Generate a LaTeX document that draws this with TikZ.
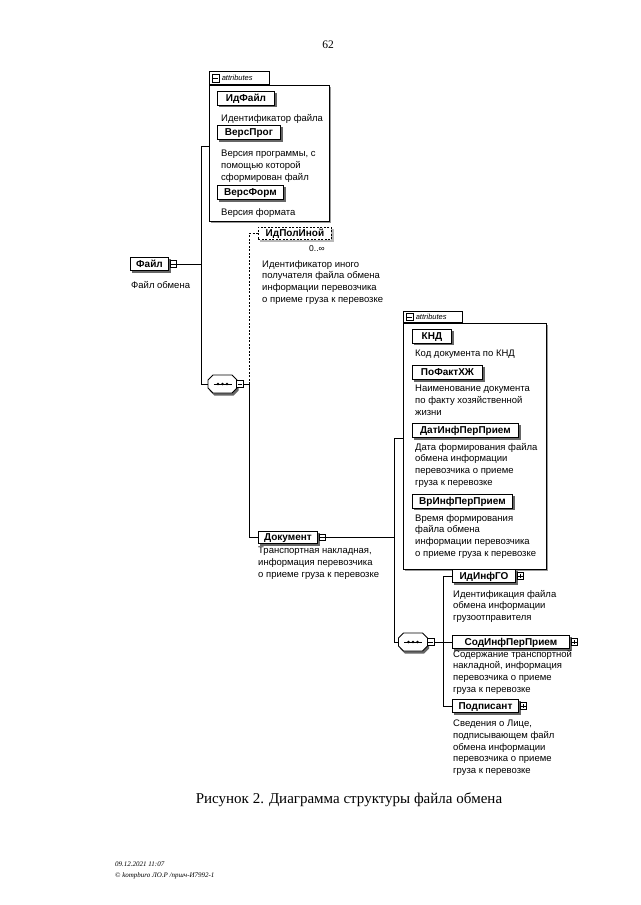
\documentclass[tikz,border=0pt]{standalone}
\usepackage{fontspec}
\setmainfont{Liberation Sans}
\newfontfamily\seriffam{Liberation Serif}
\usetikzlibrary{calc}
\pgfdeclarelayer{paper}
\pgfdeclarelayer{bgshadow}
\pgfdeclarelayer{bgbox}
\pgfdeclarelayer{shadow}
\pgfsetlayers{paper,bgshadow,bgbox,shadow,main}
\begin{document}
\begin{tikzpicture}[x=1pt,y=-1pt,
  conn/.style={line width=0.8pt},
  elem/.style={draw, line width=0.9pt, fill=white, font=\bfseries\fontsize{10}{11}\selectfont,
    inner xsep=2pt, inner ysep=0pt, text height=7.3pt, text depth=1.3pt, minimum height=12.5pt, anchor=west},
  attrel/.style={elem, minimum height=14pt},
  optel/.style={elem, dash pattern=on 2pt off 1.5pt},
  desc/.style={anchor=north west, align=left, inner sep=0pt, font=\fontsize{9.5}{11.7}\selectfont},
  togm/.style={draw, fill=white, line width=0.6pt, minimum size=6.5pt, inner sep=0pt, anchor=west,
    path picture={\draw[line width=0.6pt] ([xshift=1.2pt]path picture bounding box.west) -- ([xshift=-1.2pt]path picture bounding box.east);}},
  togp/.style={draw, fill=white, line width=0.6pt, minimum size=6.5pt, inner sep=0pt, anchor=west,
    path picture={\draw[line width=0.6pt] ([xshift=1.2pt]path picture bounding box.west) -- ([xshift=-1.2pt]path picture bounding box.east)
      ([yshift=1.2pt]path picture bounding box.south) -- ([yshift=-1.2pt]path picture bounding box.north);}},
  seqbox/.style={inner sep=0pt, minimum width=29pt, minimum height=18pt},
  seqshape/.pic={
    \fill[black!60] (-8,-6.5) -- (11,-6.5) -- (16,-1.5) -- (16,6.5) -- (11,11.5) -- (-8,11.5) -- (-13,6.5) -- (-13,-1.5) -- cycle;
    \filldraw[fill=white, line width=0.8pt] (-9.5,-9) -- (9.5,-9) -- (14.5,-4) -- (14.5,4) -- (9.5,9) -- (-9.5,9) -- (-14.5,4) -- (-14.5,-4) -- cycle;
    \draw[line width=0.6pt] (-9,0) -- (9,0);
    \fill (-4.5,0) circle[radius=1.3pt] (0,0) circle[radius=1.3pt] (4.5,0) circle[radius=1.3pt];
  },
  abox/.style={draw, line width=0.8pt, fill=white, anchor=north west, inner sep=0pt},
  tabbox/.style={draw, line width=0.8pt, fill=white, anchor=south west, inner sep=0pt, minimum height=13pt},
  shd/.style={fill=black!60},
  shdlight/.style={fill=black!28}
]
\useasboundingbox (0,0) rectangle (640,905);
\begin{pgfonlayer}{paper}
\fill[white] (0,0) rectangle (640,905);
\end{pgfonlayer}

% page number
\node[font=\seriffam\fontsize{11.5}{13}\selectfont] (pg) at (328,45) {62};

\coordinate (t1) at (201,146);
\coordinate (b1) at (249,384);
\coordinate (b2) at (394,537.5);
\coordinate (t2) at (394,438);
\coordinate (b3) at (443,642);

% ---------- attribute group frames (back layer)
\begin{pgfonlayer}{bgbox}
\node[abox, minimum width=120pt, minimum height=136pt] (ab1) at (209,85) {};
\node[tabbox, minimum width=60pt] (tab1) at (ab1.north west) {};
\node[abox, minimum width=143pt, minimum height=246pt] (ab2) at (403,323) {};
\node[tabbox, minimum width=59pt, minimum height=11.5pt] (tab2) at (ab2.north west) {};
\end{pgfonlayer}
\begin{pgfonlayer}{bgshadow}
\foreach \n in {ab1,ab2}
  \fill[black!40] ([shift={(1.5,1.5)}]\n.north west) rectangle ([shift={(1.5,1.5)}]\n.south east);
\end{pgfonlayer}

\node[togm, minimum size=7.5pt] (tm1) at ([xshift=2.5pt]tab1.west) {};
\node[anchor=west, inner sep=0pt, font=\itshape\fontsize{7.5}{8}\selectfont] (tt1) at ([xshift=2pt]tm1.east) {attributes};
\node[togm, minimum size=7.5pt] (tm2) at ([xshift=2.5pt]tab2.west) {};
\node[anchor=west, inner sep=0pt, font=\itshape\fontsize{7.5}{8}\selectfont] (tt2) at ([xshift=2pt]tm2.east) {attributes};

% ---------- first attributes
\node[attrel, minimum width=57pt] (idfayl) at (217,98) {ИдФайл};
\node[desc] (didfayl) at (221,114) {Идентификатор файла};
\node[attrel, minimum width=63pt] (versprog) at (217,132.5) {ВерсПрог};
\node[desc] (dversprog) at (221,150) {Версия программы, с\\помощью которой\\сформирован файл};
\node[attrel, minimum width=66pt] (versform) at (217,192.5) {ВерсФорм};
\node[desc] (dversform) at (221,208) {Версия формата};

% ---------- root
\node[elem, minimum width=38pt] (fayl) at (130,264) {Файл};
\node[togm] (fs) at ([xshift=1pt]fayl.east) {};
\node[desc] (dfayl) at (131,281) {Файл обмена};

% ---------- optional element
\node[optel, minimum width=73pt] (idpol) at (258,233.5) {ИдПолИной};
\node[font=\fontsize{8.5}{10}\selectfont, inner sep=0pt] (occ) at (317,249) {0..∞};
\node[desc] (didpol) at (262,260) {Идентификатор иного\\получателя файла обмена\\информации перевозчика\\о приеме груза к перевозке};

% ---------- sequence 1
\node[seqbox] (seq1) at (222.5,384) {};
\pic at (seq1.center) {seqshape};
\node[togm, minimum size=7pt] (s1sq) at ([xshift=-1pt]seq1.east) {};

% ---------- Документ
\node[elem, minimum width=59pt] (dok) at (258,537.5) {Документ};
\node[togm] (dsq) at ([xshift=1pt]dok.east) {};
\node[desc] (ddok) at (258,547) {Транспортная накладная,\\информация перевозчика\\о приеме груза к перевозке};

% ---------- second attributes
\node[attrel, minimum width=39pt] (knd) at (412,336) {КНД};
\node[desc] (dknd) at (415,350) {Код документа по КНД};
\node[attrel, minimum width=70pt] (pofakt) at (412,372.5) {ПоФактХЖ};
\node[desc] (dpofakt) at (415,385) {Наименование документа\\по факту хозяйственной\\жизни};
\node[attrel, minimum width=106pt] (datinf) at (412,430.5) {ДатИнфПерПрием};
\node[desc] (ddatinf) at (415,443) {Дата формирования файла\\обмена информации\\перевозчика о приеме\\груза к перевозке};
\node[attrel, minimum width=100pt] (vrinf) at (412,501) {ВрИнфПерПрием};
\node[desc] (dvrinf) at (415,514) {Время формирования\\файла обмена\\информации перевозчика\\о приеме груза к перевозке};

% ---------- sequence 2
\node[seqbox] (seq2) at (413,642) {};
\pic at (seq2.center) {seqshape};
\node[togm, minimum size=7pt] (s2sq) at ([xshift=-1pt]seq2.east) {};

\node[elem, minimum width=63pt] (idinfgo) at (452,576) {ИдИнфГО};
\node[togp] (p1) at ([xshift=1pt]idinfgo.east) {};
\node[desc] (didinfgo) at (453,590) {Идентификация файла\\обмена информации\\грузоотправителя};

\node[elem, minimum width=117pt] (sod) at (452,642) {СодИнфПерПрием};
\node[togp] (p2) at ([xshift=1pt]sod.east) {};
\node[desc] (dsod) at (453,650) {Содержание транспортной\\накладной, информация\\перевозчика о приеме\\груза к перевозке};

\node[elem, minimum width=66pt] (podp) at (452,706) {Подписант};
\node[togp] (p3) at ([xshift=1pt]podp.east) {};
\node[desc] (dpodp) at (453,720) {Сведения о Лице,\\подписывающем файл\\обмена информации\\перевозчика о приеме\\груза к перевозке};

% ---------- shadows of the element boxes
\begin{pgfonlayer}{shadow}
\foreach \n in {idfayl,versprog,versform,fayl,dok,knd,pofakt,datinf,vrinf,idinfgo,sod,podp}
  \fill[shd] ([shift={(2,2)}]\n.north west) rectangle ([shift={(2,2)}]\n.south east);
\fill[shdlight] ([shift={(2,2)}]idpol.north west) rectangle ([shift={(2,2)}]idpol.south east);
\end{pgfonlayer}

% ---------- connectors
\coordinate (j1) at (fs.east -| t1);
\draw[conn] (fs.east) -- (j1);
\draw[conn] (ab1.west |- t1) -- (t1) |- (seq1.west);
\draw[conn] (s1sq.east) -- (b1);
\draw[conn, dash pattern=on 2pt off 1.5pt] (b1) |- (idpol.west);
\draw[conn] (b1) |- (dok.west);
\draw[conn] (dsq.east) -- (b2);
\draw[conn] (ab2.west |- t2) -- (t2) |- (seq2.west);
\draw[conn] (s2sq.east) -- (b3);
\draw[conn] (b3) |- (idinfgo.west);
\draw[conn] (b3) -- (sod.west);
\draw[conn] (b3) |- (podp.west);

% ---------- caption and footer
\node[font=\seriffam\fontsize{15}{17}\selectfont] (cap) at (349,800) {Рисунок 2. Диаграмма структуры файла обмена};
\node[anchor=north west, align=left, inner sep=0pt, font=\seriffam\itshape\fontsize{7}{10.5}\selectfont] (foot) at (115,862) {09.12.2021 11:07\\© kompburo ЛО.Р /пршч-И7992-1};
\end{tikzpicture}
\end{document}
